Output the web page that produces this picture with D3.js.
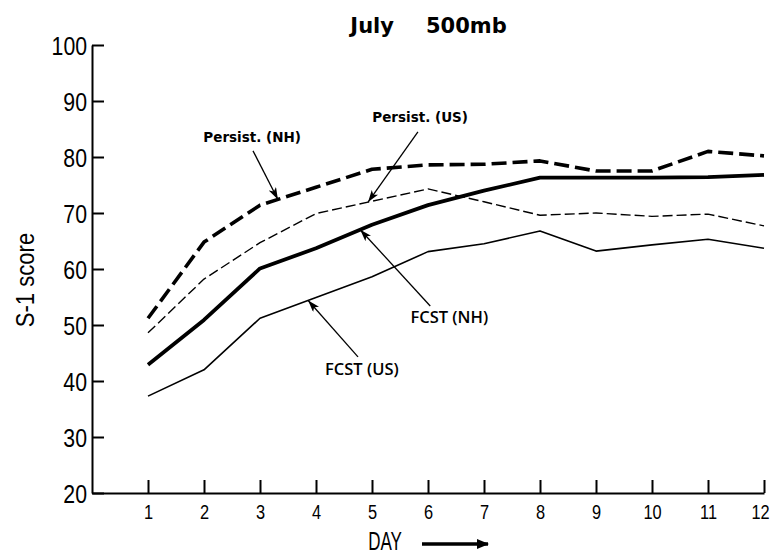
<!DOCTYPE html>
<html>
<head>
<meta charset="utf-8">
<script src="https://cdn.jsdelivr.net/npm/d3@7"></script>
<style>
  html, body { margin: 0; padding: 0; background: #fff; }
  svg { display: block; }
</style>
</head>
<body>
<svg id="chart" width="772" height="557"></svg>
<script>
// Forecast day and S-1 scores for July, 500 mb
const days = [1, 2, 3, 4, 5, 6, 7, 8, 9, 10, 11, 12];
const persistNH = [51.2, 64.8, 71.4, 74.6, 77.8, 78.6, 78.7, 79.3, 77.5, 77.5, 81.0, 80.2];
const persistUS = [48.6, 58.2, 64.7, 69.9, 72.1, 74.3, 72.0, 69.6, 70.0, 69.4, 69.8, 67.7];
const fcstNH    = [42.9, 50.9, 60.1, 63.7, 67.9, 71.4, 74.0, 76.3, 76.3, 76.3, 76.4, 76.8];
const fcstUS    = [37.3, 42.0, 51.2, 54.9, 58.6, 63.1, 64.5, 66.8, 63.2, 64.3, 65.3, 63.7];
const yTicks = [20, 30, 40, 50, 60, 70, 80, 90, 100];
const xTicks = days;

const svg = d3.select("#chart");
const x = d3.scaleLinear().domain([0, 12]).range([92, 764]);
const y = d3.scaleLinear().domain([20, 100]).range([493, 45]);

const condensed = "'Liberation Sans', Arial, sans-serif";
const gothic = "'DejaVu Sans', Verdana, sans-serif";

// ---- axes ----
const yAxis = svg.append("g")
  .attr("transform", `translate(${x(0)},0)`)
  .call(d3.axisLeft(y).tickValues(yTicks).tickSize(-12).tickSizeOuter(0));
const xAxis = svg.append("g")
  .attr("transform", `translate(0,${y(20)})`)
  .call(d3.axisBottom(x).tickValues(xTicks).tickSize(-13).tickSizeOuter(0));

[yAxis, xAxis].forEach(g => {
  g.select(".domain").attr("stroke", "#000").attr("stroke-width", 2);
  g.selectAll(".tick line").attr("stroke", "#000").attr("stroke-width", 2);
});

yAxis.selectAll(".tick text")
  .attr("x", 0).attr("dy", "0.36em")
  .attr("transform", "translate(-5,0) scale(0.85,1)")
  .attr("font-family", condensed).attr("font-size", 25)
  .attr("fill", "#000").attr("text-anchor", "end");

// the last day label sits against the right edge, so it is nudged inward
xAxis.selectAll(".tick text")
  .attr("y", 0).attr("dy", 0)
  .attr("transform", d => `translate(${d === 12 ? -4 : 0},26) scale(0.78,1)`)
  .attr("font-family", condensed).attr("font-size", 21)
  .attr("fill", "#000").attr("text-anchor", "middle");

// axis titles
svg.append("text")
  .attr("transform", "translate(34,280) rotate(-90) scale(0.85,1)")
  .attr("text-anchor", "middle")
  .attr("font-family", condensed).attr("font-size", 26)
  .text("S-1 score");

svg.append("text")
  .attr("transform", "translate(385,550) scale(0.68,1)")
  .attr("text-anchor", "middle")
  .attr("font-family", condensed).attr("font-size", 25)
  .text("DAY");

const defs = svg.append("defs");
defs.append("marker")
  .attr("id", "bigHead").attr("markerUnits", "userSpaceOnUse")
  .attr("viewBox", "0 0 12 10").attr("refX", 11).attr("refY", 5)
  .attr("markerWidth", 12).attr("markerHeight", 10).attr("orient", "auto")
  .append("path").attr("d", "M0,0 L12,5 L0,10 Z").attr("fill", "#000");
defs.append("marker")
  .attr("id", "head").attr("markerUnits", "userSpaceOnUse")
  .attr("viewBox", "0 0 12 8").attr("refX", 12).attr("refY", 4)
  .attr("markerWidth", 12).attr("markerHeight", 8).attr("orient", "auto")
  .append("path").attr("d", "M0,0 L12,4 L0,8 L3,4 Z").attr("fill", "#000");

// arrow beside the DAY label
svg.append("line")
  .attr("x1", 422).attr("x2", 488).attr("y1", 544).attr("y2", 544)
  .attr("stroke", "#000").attr("stroke-width", 3.5)
  .attr("marker-end", "url(#bigHead)");

// title
svg.append("text").attr("x", 394).attr("y", 33).attr("text-anchor", "end")
  .attr("font-family", gothic).attr("font-weight", "bold").attr("font-size", 21)
  .text("July");
svg.append("text").attr("x", 426).attr("y", 33).attr("text-anchor", "start")
  .attr("font-family", gothic).attr("font-weight", "bold").attr("font-size", 21)
  .text("500mb");

// ---- series ----
const series = [
  { name: "Persist. (NH)", values: persistNH, width: 3.6, dash: "15,6" },
  { name: "Persist. (US)", values: persistUS, width: 1.4, dash: "10,4" },
  { name: "FCST (NH)",     values: fcstNH,    width: 3.8, dash: null },
  { name: "FCST (US)",     values: fcstUS,    width: 1.6, dash: null }
];

const line = d3.line().x((d, i) => x(days[i])).y(d => y(d));

svg.append("g").selectAll("path")
  .data(series).join("path")
  .attr("d", d => line(d.values))
  .attr("fill", "none").attr("stroke", "#000")
  .attr("stroke-width", d => d.width)
  .attr("stroke-dasharray", d => d.dash)
  .attr("stroke-linejoin", "round");

// ---- labels with pointers onto their curves ----
function valueAt(vals, day) {
  const i = Math.min(Math.floor(day) - 1, vals.length - 2);
  const t = day - days[i];
  return vals[i] + (vals[i + 1] - vals[i]) * t;
}

const notes = [
  { text: "Persist. (NH)", tx: 2.86, ty: 82.7, bold: true,  size: 13.5, tail: [2.875, 81.1], tip: 3.32, values: persistNH },
  { text: "Persist. (US)", tx: 5.86, ty: 86.3, bold: true,  size: 13.5, tail: [5.82, 84.5],  tip: 4.93, values: persistUS },
  { text: "FCST (NH)",     tx: 6.38, ty: 50.4, bold: false, size: 16.5, tail: [6.04, 53.4],  tip: 4.79, values: fcstNH },
  { text: "FCST (US)",     tx: 4.82, ty: 41.1, bold: false, size: 16.5, tail: [4.75, 44.3],  tip: 3.86, values: fcstUS }
];

const ng = svg.append("g");
notes.forEach(n => {
  ng.append("line")
    .attr("x1", x(n.tail[0])).attr("y1", y(n.tail[1]))
    .attr("x2", x(n.tip)).attr("y2", y(valueAt(n.values, n.tip)))
    .attr("stroke", "#000").attr("stroke-width", 1.3)
    .attr("marker-end", "url(#head)");
  ng.append("text")
    .attr("x", x(n.tx)).attr("y", y(n.ty))
    .attr("text-anchor", "middle")
    .attr("font-family", n.bold ? gothic : "'Open Sans', " + gothic)
    .attr("font-weight", n.bold ? "bold" : 600)
    .attr("font-size", n.size)
    .text(n.text);
});
</script>
</body>
</html>
